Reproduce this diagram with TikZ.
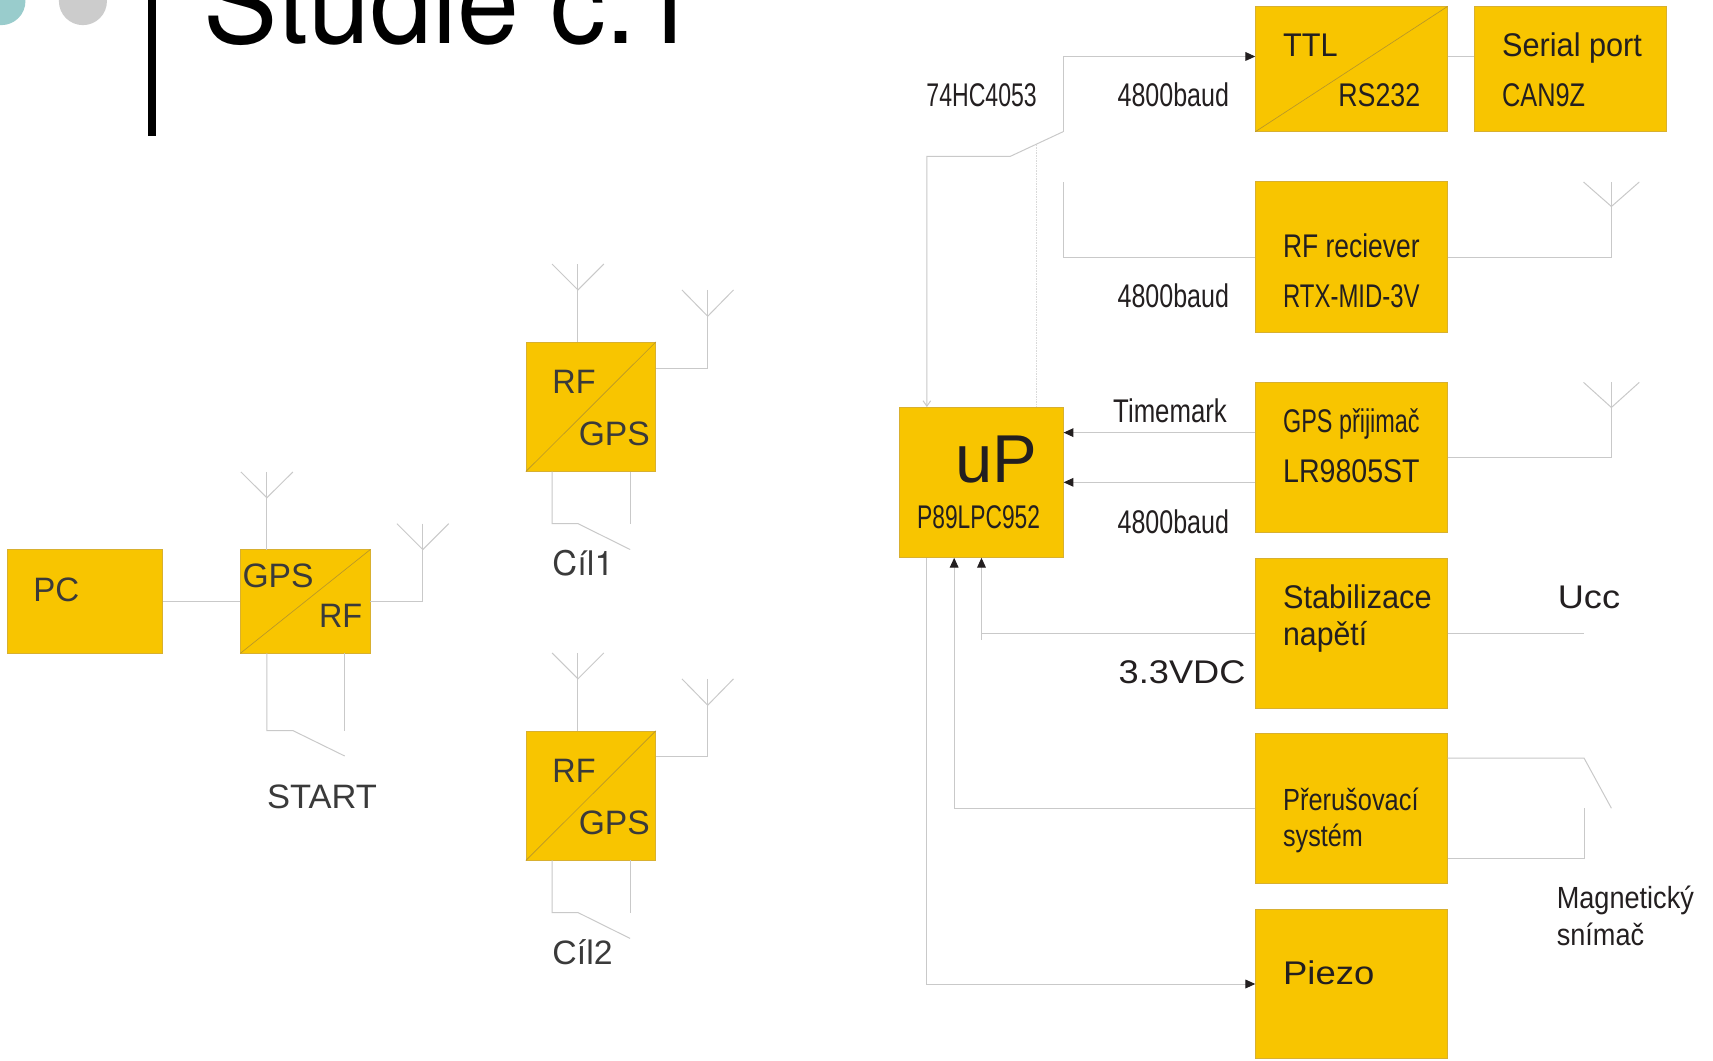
\documentclass[tikz,border=0pt]{standalone}
\usepackage{fontspec}
\setmainfont{Liberation Sans}
\newfontfamily\heros{TeX Gyre Heros}
\usetikzlibrary{arrows.meta}
\definecolor{boxfill}{HTML}{F8C500}
\definecolor{boxedge}{HTML}{D8B030}
\definecolor{wirecol}{HTML}{C9C9C9}
\definecolor{inkdark}{HTML}{231F20}
\definecolor{inkleft}{HTML}{3A3A3A}
\newcommand{\fw}[3]{\sbox0{\fontsize{#2}{#2}\selectfont #3}\pgfmathsetmacro{\fwr}{#1/\wd0}\scalebox{\fwr}[1]{\usebox0}}
\newcommand{\tx}[7]{\node[lab,text=#7] (#1) at (#2,#3) {\fw{#4}{#5}{#6}};}
\newcommand{\bx}[5]{\node[blk,minimum width={(#4-#2)*1pt},minimum height={(#5-#3)*1pt}] (#1) at ({(#2+#4)/2},{(#3+#5)/2}) {};}
\newcommand{\ant}[5]{%
  \coordinate (#1) at (#2,#4);
  \coordinate (#1t) at (#2,#3);
  \coordinate (#1l) at ({#2-#5},#3);
  \coordinate (#1r) at ({#2+#5},#3);
  \draw[wire] (#1l) -- (#1) -- (#1r);
  \draw[wire] (#1t) -- (#1);}
\tikzset{
  lab/.style={anchor=base west,inner sep=0pt,outer sep=0pt},
  blk/.style={draw=boxedge,line width=0.6pt,fill=boxfill,inner sep=0pt,outer sep=0pt},
  wire/.style={draw=wirecol,line width=0.9pt},
  faint/.style={draw=wirecol!70,line width=0.5pt,densely dotted},
  diag/.style={draw=boxedge!85!black,line width=0.6pt},
  tipk/.style={-{Triangle[length=9pt,width=8pt,color=inkdark]}},
  tipo/.style={-{Straight Barb[length=5pt,width=7pt,color=wirecol]}},
}
\begin{document}
\begin{tikzpicture}[x=1pt,y=-1pt]
\useasboundingbox (0,0) rectangle (1568,971);
\clip (0,0) rectangle (1568,971);
\fill[white] (0,0) rectangle (1568,971);
% header
\fill[fill=black] (135.5,0) rectangle (142.8,124.5);
\node[circle,fill={rgb,255:red,153;green,204;blue,204},minimum size=44pt,inner sep=0pt] (dotA) at (1.3,1) {};
\node[circle,fill=black!20,minimum size=44pt,inner sep=0pt] (dotB) at (75.9,1) {};
\tx{title}{186.5}{39.5}{453}{106}{{\heros Studie c.1}}{black}

% ===== right part: boxes
\bx{ttl}{1149}{5.9}{1325}{120.6}
\bx{ser}{1349.5}{5.9}{1525}{120.6}
\bx{rfr}{1149}{166}{1325}{304}
\bx{gps}{1149}{350}{1325}{487.5}
\bx{up}{823}{372.6}{973.6}{510.6}
\bx{sta}{1149}{511}{1325}{648}
\bx{pre}{1149}{671.3}{1325}{809}
\bx{pie}{1149}{832.2}{1325}{969}
\draw[diag] (ttl.south west) -- (ttl.north east);

% switch 74HC4053 and its wires
\coordinate (swA) at (973,120.6);
\coordinate (swT) at (973,51.7);
\coordinate (swB) at (924.6,143.2);
\coordinate (swC) at (848.4,143.2);
\coordinate (swD) at (949,132.7);
\coordinate (swE) at (973,166.6);
\draw[wire,tipk] (swA) -- (swT) -- (swT -| ttl.west);
\draw[wire,tipo] (swA) -- (swB) -- (swC) -- (swC |- up.north);
\draw[faint] (swD) -- (swD |- up.north);
\draw[wire] (swT -| ttl.east) -- (swT -| ser.west);

% RF receiver
\coordinate (rfY) at (1237,235.6);
\draw[wire] (swE) -- (swE |- rfY) -- (rfY -| rfr.west);
\ant{antR}{1475}{166.6}{189}{25.5}
\draw[wire] (rfY -| rfr.east) -- (rfY -| antR) -- (antR);

% GPS receiver
\ant{antG}{1475}{350}{373}{25.5}
\coordinate (gpY) at (1237,418.7);
\draw[wire] (gpY -| gps.east) -- (gpY -| antG) -- (antG);
\coordinate (tmY) at (1060,396);
\coordinate (bdY) at (1060,441.5);
\draw[wire,tipk] (tmY -| gps.west) -- (tmY -| up.east);
\draw[wire,tipk] (bdY -| gps.west) -- (bdY -| up.east);

% stabilizer
\coordinate (stL) at (898.4,579.5);
\coordinate (stX) at (898.4,585.5);
\coordinate (stR) at (1450,579.5);
\draw[wire,tipk] (stX) -- (stX |- up.south);
\draw[wire] (stL) -- (stL -| sta.west);
\draw[wire] (stR -| sta.east) -- (stR);

% interrupt system
\coordinate (prL) at (873.4,739.8);
\draw[wire,tipk] (prL -| pre.west) -- (prL) -- (prL |- up.south);
\coordinate (msA) at (1450,694);
\coordinate (msB) at (1475,739.8);
\coordinate (msC) at (1450,739.8);
\coordinate (msD) at (1450,786);
\draw[wire] (msA -| pre.east) -- (msA) -- (msB);
\draw[wire] (msD -| pre.east) -- (msD) -- (msC);

% piezo
\coordinate (piY) at (848.4,900.7);
\draw[wire,tipk] (swC |- up.south) -- (piY) -- (piY -| pie.west);

% right part: texts
\tx{tTTL}{1174.5}{51.5}{50}{30}{TTL}{inkdark}
\tx{tRS}{1225}{97.5}{75}{30}{RS232}{inkdark}
\tx{tSer}{1375}{51.5}{128}{30}{Serial port}{inkdark}
\tx{tCan}{1375}{97.5}{76}{30}{CAN9Z}{inkdark}
\tx{t74}{848}{97.5}{101}{30}{74HC4053}{inkdark}
\tx{tB1}{1023}{97.5}{102}{30}{4800baud}{inkdark}
\tx{tRf}{1174.5}{235.5}{125}{30}{RF reciever}{inkdark}
\tx{tRtx}{1174.5}{281.5}{125}{30}{RTX-MID-3V}{inkdark}
\tx{tB2}{1023}{281.5}{102}{30}{4800baud}{inkdark}
\tx{tTm}{1019}{386.5}{104}{30}{Timemark}{inkdark}
\tx{tGp}{1174.5}{396}{125}{30}{GPS přijimač}{inkdark}
\tx{tLr}{1174.5}{442}{125}{30}{LR9805ST}{inkdark}
\tx{tB3}{1023}{488}{102}{30}{4800baud}{inkdark}
\tx{tUp}{874.5}{441.5}{75}{62}{uP}{inkdark}
\tx{tP8}{839.5}{483.5}{112.5}{30}{P89LPC952}{inkdark}
\tx{tSt}{1174.5}{557}{136}{30}{Stabilizace}{inkdark}
\tx{tNa}{1174.5}{591}{77}{30}{napětí}{inkdark}
\tx{tV}{1024}{626}{116}{30}{3.3VDC}{inkdark}
\tx{tU}{1426}{557}{57}{30}{Ucc}{inkdark}
\tx{tPr}{1174.5}{741.5}{124}{28}{Přerušovací}{inkdark}
\tx{tSy}{1174.5}{774.5}{73}{28}{systém}{inkdark}
\tx{tMa}{1425}{832}{125.5}{28}{Magnetický}{inkdark}
\tx{tSn}{1425}{865.5}{80}{28}{snímač}{inkdark}
\tx{tPi}{1174.5}{901.5}{83.5}{30}{Piezo}{inkdark}

% ===== left part
\bx{pc}{6.7}{503}{149}{598}
\bx{gr}{220}{503}{339}{598}
\draw[diag] (gr.south west) -- (gr.north east);
\coordinate (pcY) at (180,550.2);
\draw[wire] (pcY -| pc.east) -- (pcY -| gr.west);
\ant{antS}{244.3}{432}{455.6}{23.8}
\draw[wire] (antS) -- (antS |- gr.north);
\ant{antT}{387}{479.3}{503}{23.7}
\draw[wire] (pcY -| gr.east) -- (pcY -| antT) -- (antT);
\coordinate (stA) at (244.3,668.7);
\coordinate (stB) at (268,668.7);
\coordinate (stC) at (315.5,692);
\coordinate (stD) at (315.5,668.7);
\draw[wire] (stA |- gr.south) -- (stA) -- (stB) -- (stC);
\draw[wire] (stD |- gr.south) -- (stD);

% target 1
\bx{ca}{481.4}{313}{600.3}{431.6}
\draw[diag] (ca.south west) -- (ca.north east);
\ant{antA}{529}{241.7}{265.4}{23.7}
\draw[wire] (antA) -- (antA |- ca.north);
\ant{antB}{647.8}{265.4}{289.5}{23.6}
\coordinate (caY) at (620,336.9);
\draw[wire] (caY -| ca.east) -- (caY -| antB) -- (antB);
\coordinate (caA) at (505.4,479.3);
\coordinate (caB) at (529,479.3);
\coordinate (caC) at (576.8,503);
\coordinate (caD) at (576.8,479.3);
\draw[wire] (caA |- ca.south) -- (caA) -- (caB) -- (caC);
\draw[wire] (caD |- ca.south) -- (caD);

% target 2
\bx{cb}{481.4}{669}{600.3}{787.6}
\draw[diag] (cb.south west) -- (cb.north east);
\ant{antC}{529}{597.7}{621.4}{23.7}
\draw[wire] (antC) -- (antC |- cb.north);
\ant{antD}{647.8}{621.4}{645.5}{23.6}
\coordinate (cbY) at (620,692.9);
\draw[wire] (cbY -| cb.east) -- (cbY -| antD) -- (antD);
\coordinate (cbA) at (505.4,835.3);
\coordinate (cbB) at (529,835.3);
\coordinate (cbC) at (576.8,859);
\coordinate (cbD) at (576.8,835.3);
\draw[wire] (cbA |- cb.south) -- (cbA) -- (cbB) -- (cbC);
\draw[wire] (cbD |- cb.south) -- (cbD);

% left part: texts
\tx{lPC}{30.5}{550.5}{42}{31}{PC}{inkleft}
\tx{lG}{222}{537.5}{65}{31}{GPS}{inkleft}
\tx{lR}{292}{574}{39.5}{31}{RF}{inkleft}
\tx{lS}{244.5}{740.5}{100.5}{31}{START}{inkleft}
\tx{lR1}{505.7}{360}{39.5}{31}{RF}{inkleft}
\tx{lG1}{529.8}{407.5}{65}{31}{GPS}{inkleft}
\tx{lC1}{505.7}{526.5}{56}{31}{{\heros Cíl1}}{inkleft}
\tx{lR2}{505.7}{716}{39.5}{31}{RF}{inkleft}
\tx{lG2}{529.8}{764}{65}{31}{GPS}{inkleft}
\tx{lC2}{505.7}{882.5}{55}{31}{Cíl2}{inkleft}
\end{tikzpicture}
\end{document}
